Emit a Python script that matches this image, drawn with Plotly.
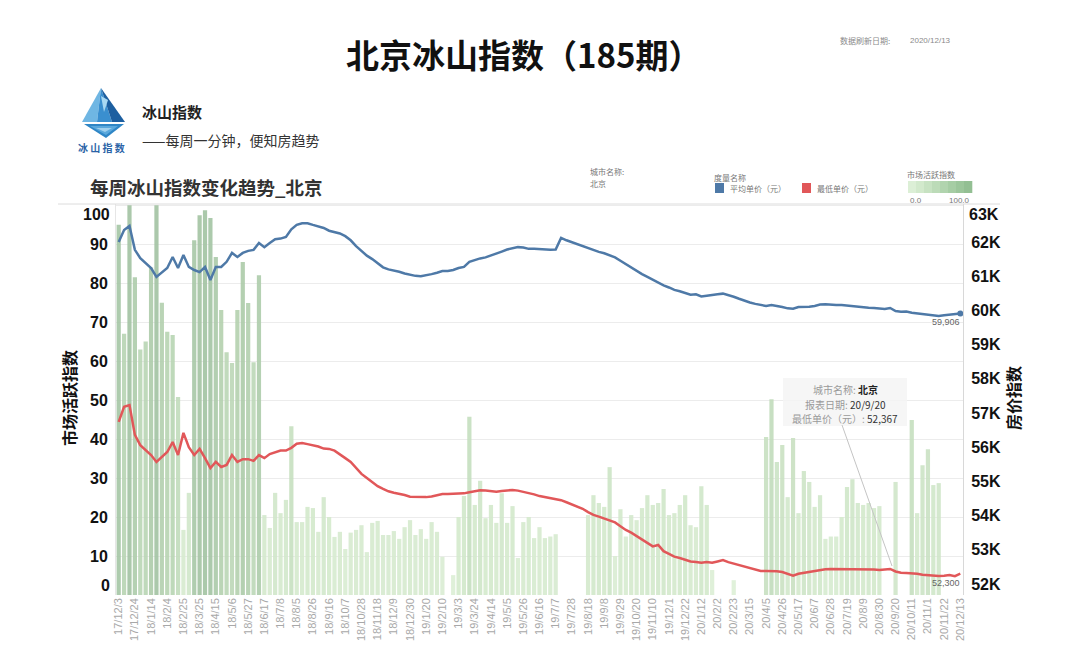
import plotly.graph_objects as go

# ---------------- data ----------------
tick_labels = [
    "17/12/3", "17/12/24", "18/1/14", "18/2/4", "18/2/25", "18/3/25", "18/4/15", "18/5/6",
    "18/5/27", "18/6/17", "18/7/8", "18/8/5", "18/8/26", "18/9/16", "18/10/7", "18/10/28",
    "18/11/18", "18/12/9", "18/12/30", "19/1/20", "19/2/10", "19/3/3", "19/3/24", "19/4/14",
    "19/5/5", "19/5/26", "19/6/16", "19/7/7", "19/7/28", "19/8/18", "19/9/8", "19/9/29",
    "19/10/20", "19/11/10", "19/12/1", "19/12/22", "20/1/12", "20/2/2", "20/2/23", "20/3/15",
    "20/4/5", "20/4/26", "20/5/17", "20/6/7", "20/6/28", "20/7/19", "20/8/9", "20/8/30",
    "20/9/20", "20/10/11", "20/11/1", "20/11/22", "20/12/13",
]

# 市场活跃指数 (weekly bars, None = no data)
activity = [
    95, 67, 100, 81.5, 63, 65, 84, 100, 75, 67.5,
    66.7, 50.8, 16.7, 26.2, 91, 97.4, 98.7, 96.7, 86.7, 73.1,
    62.3, 59.5, 73.1, 85.4, 74.9, 59.7, 82, 20.5, 17.2, 26.2,
    21.0, 24.4, 43.3, 18.7, 18.7, 22.6, 22.3, 16.2, 25.1, 20.0,
    14.9, 16.2, 11.8, 16.0, 16.7, 17.9, 11.0, 18.5, 19.0, 15.4,
    15.4, 16.4, 14.4, 17.4, 19.2, 15.4, 16.9, 14.4, 18.7, 16.2,
    9.8, None, 5.1, 20.0, 25.4, 45.7, 23.1, 29.3, 19.7, 23.1,
    18.5, 26.1, 18.5, 22.8, 9.5, 18.7, 20.0, 14.6, 17.4, 14.6,
    15.0, 15.6, None, None, None, None, None, 20.5, 25.6, 23.6,
    22.6, 32.8, 10.0, 22.0, 15.0, 20.5, 19.2, 22.3, 25.6, 23.1,
    23.6, 27.2, 20.5, 21.0, 23.1, 25.6, 17.9, 17.4, 27.9, 23.1,
    6.4, None, None, None, 3.8, None, None, None, None, None,
    40.5, 50.2, 34.1, 38.5, 25.1, 40.3, 21.0, 31.8, 29.0, 22.6,
    25.6, 14.4, 15.0, 15.0, 20.0, 27.7, 29.7, 23.6, 23.1, 23.6,
    22.3, 22.8, None, None, 29.0, None, None, 44.9, 21.0, 33.3,
    37.4, 28.2, 28.7, None, None, None, None,
]

# 平均单价（元）
avg_price = [
    62000, 62350, 62470, 61770, 61530, 61390, 61240, 60980, 61120, 61240,
    61560, 61240, 61620, 61270, 61180, 61120, 61270, 60890, 61270, 61270,
    61420, 61680, 61560, 61680, 61740, 61770, 61970, 61850, 61970, 62080,
    62100, 62150, 62370, 62500, 62550, 62550, 62500, 62460, 62410, 62330,
    62300, 62250, 62170, 62050, 61880, 61730, 61600, 61500, 61380, 61260,
    61200, 61170, 61130, 61080, 61040, 61010, 61000, 61020, 61060, 61100,
    61150, 61150, 61180, 61240, 61270, 61420, 61480, 61520, 61550, 61600,
    61660, 61720, 61780, 61820, 61850, 61840, 61800, 61800, 61790, 61770,
    61770, 61780, 62120, 62050, 61990, 61930, 61880, 61820, 61770, 61710,
    61670, 61620, 61550, 61450, 61350, 61270, 61150, 61060, 60980, 60900,
    60800, 60730, 60670, 60600, 60560, 60510, 60460, 60470, 60410, 60430,
    60440, 60470, 60490, 60450, 60400, 60340, 60280, 60230, 60190, 60150,
    60130, 60160, 60140, 60100, 60060, 60050, 60100, 60100, 60110, 60130,
    60170, 60180, 60160, 60160, 60160, 60140, 60130, 60120, 60100, 60080,
    60070, 60050, 60040, 60070, 59980, 59960, 59970, 59930, 59910, 59890,
    59870, 59850, 59840, 59860, 59870, 59880, 59906,
]

# 最低单价（元）
min_price = [
    56740, 57180, 57230, 56360, 56060, 55920, 55770, 55570, 55710, 55860,
    56150, 55770, 56420, 56000, 55770, 55950, 55680, 55390, 55570, 55420,
    55480, 55770, 55570, 55650, 55650, 55600, 55770, 55680, 55800, 55860,
    55900, 55900, 55980, 56100, 56120, 56090, 56060, 56020, 55960, 55950,
    55900, 55780, 55680, 55570, 55380, 55220, 55100, 54970, 54860, 54780,
    54710, 54670, 54640, 54600, 54550, 54540, 54540, 54540, 54560, 54600,
    54630, 54630, 54630, 54630, 54650, 54680, 54700, 54740, 54730, 54710,
    54700, 54720, 54740, 54750, 54730, 54700, 54660, 54620, 54570, 54540,
    54510, 54480, 54450, 54390, 54330, 54270, 54200, 54100, 54020, 53970,
    53920, 53860, 53800, 53690, 53580, 53500, 53400, 53300, 53200, 53100,
    53140, 52960, 52880, 52800, 52760, 52700, 52660, 52640, 52620, 52640,
    52620, 52660, 52700, 52640, 52600, 52550, 52500, 52460, 52420, 52380,
    52380, 52380, 52370, 52350, 52300, 52240, 52300, 52330, 52350, 52380,
    52410, 52430, 52440, 52440, 52440, 52440, 52440, 52440, 52440, 52430,
    52420, 52410, 52420, 52440, 52367, 52330, 52320, 52320, 52300, 52270,
    52250, 52230, 52230, 52240, 52260, 52230, 52300,
]

activity_ticks = [0, 10, 20, 30, 40, 50, 60, 70, 80, 90, 100]
activity_tick_labels = ["0", "10", "20", "30", "40", "50", "60", "70", "80", "90", "100"]
price_ticks = [52000, 53000, 54000, 55000, 56000, 57000, 58000, 59000, 60000, 61000, 62000, 63000]
price_tick_labels = ["52K", "53K", "54K", "55K", "56K", "57K", "58K", "59K", "60K", "61K", "62K", "63K"]

# ---------------- layout helpers ----------------
W, H = 1080, 667
L, R, T, B = 116, 963, 204, 595


def px(x):
    return (x - L) / (R - L)


def py(y):
    return (B - y) / (B - T)


CJK = "Noto Sans CJK SC"
NUM = "Liberation Sans, Arial, sans-serif"

n = len(avg_price)
xs = list(range(n))
tickvals = list(range(0, 3 * len(tick_labels), 3))

bar_colors = [v if v is not None else 0 for v in activity]

# inner axis labels; the extreme ones are drawn nudged inside the plot like the original
left_text = [""] + activity_tick_labels[1:-1] + [""]
right_text = price_tick_labels[:-1] + [""]

fig = go.Figure()

fig.add_trace(go.Bar(
    x=xs, y=activity, yaxis="y",
    marker=dict(color=bar_colors, cmin=0, cmax=100,
                colorscale=[[0, "#dff1d8"], [0.3, "#cfe6c8"], [0.7, "#b6d3b1"], [1, "#a2c3a2"]],
                line=dict(width=0)),
    opacity=0.9, name="市场活跃指数", showlegend=False,
    hoverinfo="skip",
))

fig.add_trace(go.Scatter(
    x=xs, y=avg_price, yaxis="y2", mode="lines",
    line=dict(color="#4e79a7", width=2.5),
    name="平均单价（元）", showlegend=False,
))
fig.add_trace(go.Scatter(
    x=xs, y=min_price, yaxis="y2", mode="lines",
    line=dict(color="#e15759", width=2.5),
    name="最低单价（元）", showlegend=False,
))
fig.add_trace(go.Scatter(
    x=[xs[-1]], y=[avg_price[-1]], yaxis="y2", mode="markers",
    marker=dict(color="#4e79a7", size=6), showlegend=False, hoverinfo="skip",
))

fig.update_layout(
    width=W, height=H,
    margin=dict(l=L, r=W - R, t=T, b=H - B),
    paper_bgcolor="white", plot_bgcolor="white",
    bargap=0.22,
    xaxis=dict(
        range=[-0.5, n - 0.5], tickmode="array", tickvals=tickvals, ticktext=tick_labels,
        tickangle=-90, tickfont=dict(family=NUM, size=11, color="#a8a8a8"),
        showgrid=False, zeroline=False, showline=False, ticks="", ticklen=0,
    ),
    yaxis=dict(
        range=[0, 100.3], tickmode="array", tickvals=activity_ticks, ticktext=left_text,
        tickfont=dict(family=NUM, size=16, color="#111111", weight="bold"),
        showgrid=True, gridcolor="#ececec", gridwidth=1, zeroline=False,
        showline=True, linecolor="#e6e6e6", ticks="", ticklabelstandoff=4,
    ),
    yaxis2=dict(
        range=[51678, 63111], overlaying="y", side="right", tickmode="array",
        tickvals=price_ticks, ticktext=right_text,
        tickfont=dict(family=NUM, size=16, color="#111111", weight="bold"),
        showgrid=False, zeroline=False, showline=True, linecolor="#d8d8d8",
        ticks="", ticklabelstandoff=4,
    ),
)

ann = []


def text(x, y, s, size, color="#333333", bold=False, xanchor="left", yanchor="middle",
         family=CJK, angle=0):
    ann.append(dict(
        x=px(x), y=py(y), xref="paper", yref="paper", text=s, showarrow=False,
        xanchor=xanchor, yanchor=yanchor, textangle=angle,
        font=dict(family=family, size=size, color=color, weight="bold" if bold else "normal"),
    ))


# extreme axis labels (kept inside the plot area, as in the original)
text(112, 214, activity_tick_labels[-1], 16, "#111111", True, "right", family=NUM)
text(112, 585, activity_tick_labels[0], 16, "#111111", True, "right", family=NUM)
text(967, 214, price_tick_labels[-1], 16, "#111111", True, "left", family=NUM)

# Title and header
text(523, 54, "北京冰山指数（185期）", 33, "#111111", True, "center")
text(838, 40, "数据刷新日期:", 8, "#8a8a8a")
text(908, 40, "2020/12/13", 8, "#8a8a8a", family=NUM)

# Logo texts
text(140, 112, "冰山指数", 15, "#222222", True)
text(140, 140, "——每周一分钟，便知房趋势", 14, "#333333")
text(101, 147, "冰 山 指 数", 10, "#2a62a6", True, "center")

# Subtitle
text(88, 187, "每周冰山指数变化趋势_北京", 18.5, "#333333", True)

# Legend area
text(588, 172, "城市名称:", 8, "#777777")
text(588, 183, "北京", 8, "#777777")
text(712, 177, "度量名称", 8, "#777777")
text(728, 188, "平均单价（元）", 8, "#777777")
text(815, 188, "最低单价（元）", 8, "#777777")
text(905, 175, "市场活跃指数", 8, "#777777")
text(908, 200, "0.0", 8, "#777777", family=NUM)
text(972, 200, "100.0", 8, "#777777", xanchor="right", family=NUM)

# Axis titles
text(69, 398, "市场活跃指数", 16, "#111111", True, "center", angle=-90)
text(1013, 398, "房价指数", 16, "#111111", True, "center", angle=-90)

# End labels
text(962, 322, "59,906", 9, "#666666", xanchor="right", family=NUM)
text(962, 583, "52,300", 9, "#666666", xanchor="right", family=NUM)

# Tooltip
text(845, 389, "城市名称: <span style='color:#222'><b>北京</b></span>", 10, "#9a9a9a", xanchor="center")
text(845, 404, "报表日期: <span style='color:#333'>20/9/20</span>", 10, "#9a9a9a", xanchor="center")
text(845, 418, "最低单价（元）: <span style='color:#333'>52,367</span>", 10, "#9a9a9a", xanchor="center")

fig.update_layout(annotations=ann)

shapes = []


def rect(x0, y0, x1, y1, fill, line=None):
    shapes.append(dict(type="rect", xref="paper", yref="paper",
                       x0=px(x0), x1=px(x1), y0=py(y1), y1=py(y0),
                       fillcolor=fill, line=dict(width=0 if line is None else 1,
                                                 color=line or "rgba(0,0,0,0)"),
                       layer="above"))


def poly(points, fill):
    d = "M " + " L ".join(f"{px(a):.5f},{py(b):.5f}" for a, b in points) + " Z"
    shapes.append(dict(type="path", xref="paper", yref="paper", path=d,
                       fillcolor=fill, line=dict(width=0), layer="above"))


def seg(x0, y0, x1, y1, color, width=1):
    shapes.append(dict(type="line", xref="paper", yref="paper",
                       x0=px(x0), y0=py(y0), x1=px(x1), y1=py(y1),
                       line=dict(color=color, width=width), layer="above"))


# top separator line
seg(58, 204, 1000, 204, "#dcdcdc", 1)

# legend swatches
rect(715, 183, 724, 193, "#4e79a7")
rect(802, 183, 811, 193, "#e15759")
# gradient bar for activity legend
grad = ["#dcefd6", "#d2e9cc", "#c7e2c2", "#bcdbb8", "#b1d4ae", "#a6cda4", "#9cc69b", "#93bf93"]
gw = (972 - 908) / len(grad)
for k, c in enumerate(grad):
    rect(908 + k * gw, 181, 908 + (k + 1) * gw + 0.3, 193, c)

# iceberg logo
poly([(101, 88), (82, 122), (97, 122)], "#6fb6e3")
poly([(101, 88), (97, 122), (112, 122)], "#3a8fcf")
poly([(101, 88), (112, 122), (125, 122)], "#1d5fa0")
poly([(101, 96), (104, 112), (108, 100)], "#a9d9f2")
poly([(84, 124), (124, 124), (106, 138)], "#2f86c6")
poly([(90, 126), (118, 126), (106, 135)], "#5aa8dc")
poly([(96, 128), (112, 128), (105, 132)], "#9fd0ee")

# tooltip box and pointer
rect(783, 378, 907, 426, "rgba(245,245,245,0.85)")
seg(842, 425, 892, 566, "#c4c4c4", 1)

fig.update_layout(shapes=shapes)

fig.write_html("out.html")
